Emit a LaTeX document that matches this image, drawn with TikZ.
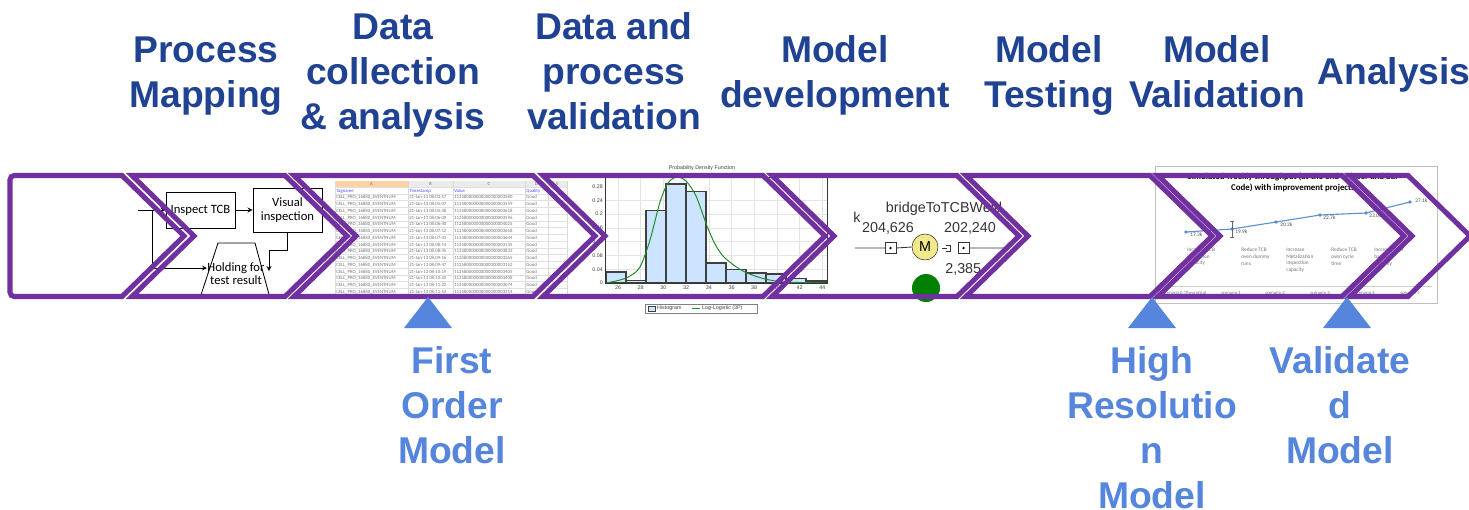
\documentclass[tikz,border=0pt]{standalone}
\usepackage{fontspec}
\setmainfont{Liberation Sans}
\newfontfamily\calfont{Carlito}
\usetikzlibrary{arrows.meta}
\definecolor{chevpurple}{RGB}{112,48,160}
\definecolor{stageblue}{RGB}{32,66,146}
\definecolor{markblue}{RGB}{86,133,221}
\definecolor{histfill}{RGB}{204,228,255}
\definecolor{pdfgreen}{RGB}{30,140,40}
\definecolor{lineblue}{RGB}{91,145,210}
\definecolor{gridgrey}{RGB}{228,228,228}
\definecolor{mustard}{RGB}{242,232,140}
\begin{document}
\begin{tikzpicture}[x=0.025cm,y=-0.025cm,>=stealth,
  stage/.style={font=\fontsize{26.5}{32}\selectfont\bfseries,text=stageblue,align=center,anchor=base,inner sep=0pt},
  milestone/.style={stage,text=markblue},
  chevline/.style={draw=chevpurple,line width=3.6pt,line join=miter},
  flowbox/.style={draw,line width=0.6pt,font=\calfont\fontsize{9}{9.5}\selectfont,align=center,inner sep=0pt},
  cell/.style={font=\calfont\fontsize{3.4}{4}\selectfont,text=black!55,anchor=base west,inner sep=0pt},
  axlabel/.style={font=\fontsize{3.8}{4}\selectfont,text=black!75,inner sep=0.6pt},
  modeltext/.style={font=\fontsize{10.2}{12}\selectfont,text=black!80,inner sep=0pt,anchor=base},
  charttext/.style={font=\calfont\fontsize{3.8}{4.7}\selectfont,text=black!55,align=left,anchor=north west,inner sep=0pt}]
\useasboundingbox (0,0) rectangle (1469,509);

% stage titles (placed at the baseline of their last line)
\node[stage] (procmap) at (206,107) {Process\\Mapping};
\node[stage] (datacoll) at (393,129) {Data\\collection\\\& analysis};
\node[stage] (dataval) at (614,129) {Data and\\process\\validation};
\node[stage] (modeldev) at (835,107) {Model\\development};
\node[stage] (modeltest) at (1049,107) {Model\\Testing};
\node[stage] (modelval) at (1217,107) {Model\\Validation};
\node[stage] (analysis) at (1394,84) {Analysis};

% process map snapshot
\node[flowbox,minimum width=1.725cm,minimum height=0.9cm] (inspect) at (200.5,210) {Inspect TCB};
\node[flowbox,minimum width=1.725cm,minimum height=1.1cm] (visual) at (287.5,210) {Visual\\inspection};
\draw[line width=0.6pt] (200,298)--(218,243)--(255,243)--(270,298);
\node[flowbox,draw=none] (hold) at (236,273.5) {Holding for\\test result};
\coordinate (flowin) at (138,210);
\draw[->,line width=0.6pt] (flowin) -- (inspect.west);
\draw[->,line width=0.6pt] (inspect.east) -- (visual.west);
\draw[->,line width=0.6pt] (visual.south) -- (287.5,250) -- (269,250) -- (269,271);
\draw[->,line width=0.6pt] (152,210) -- (152,268) -- (207,268);

% spreadsheet snapshot
\fill[black!8] (335,181) rectangle (567,187);
\fill[orange!35] (335,181) rectangle (408,187);
\foreach \x in {335,408,453,525,548,567} \draw[black!15,line width=0.2pt] (\x,181) -- (\x,298);
\foreach \r in {0,...,16} \draw[black!12,line width=0.2pt] (335,{187+6.75*\r}) -- (567,{187+6.75*\r});
\foreach \c/\x in {A/371.5,B/430.5,C/489,D/536.5,E/557.5} \node[cell,anchor=center] at (\x,184) {\c};
\node[cell,text=blue!70] at (336,192) {Tagname};
\node[cell,text=blue!70] at (409,192) {Timestamp};
\node[cell,text=blue!70] at (454,192) {Value};
\node[cell,text=blue!70] at (526,192) {Quality};
\foreach \ts/\val [count=\i] in {08:03:57/3580,08:05:07/3559,08:05:38/3618,08:06:09/3596,08:06:40/4025,08:07:12/3658,08:07:43/3644,08:08:14/3135,08:08:45/3832,08:09:16/3265,08:09:47/3152,08:10:19/3405,08:10:50/3408,08:11:22/3074,08:11:53/3314}{
  \node[cell] at (336,{192+6.75*\i}) {CELL\_PRO\_16880\_EVENTNUM};
  \node[cell] at (409,{192+6.75*\i}) {21-Jan-13 \ts};
  \node[cell] at (454,{192+6.75*\i}) {11258000000000000000\val};
  \node[cell] at (526,{192+6.75*\i}) {Good};
}

% histogram snapshot
\node[axlabel] (pdftitle) at (702,168) {Probability Density Function};
\foreach \v in {26,28,...,44} \draw[gridgrey,line width=0.3pt] ({618+11.35*(\v-26)},177) -- ({618+11.35*(\v-26)},283);
\foreach \v in {0.04,0.08,...,0.28} \draw[gridgrey,line width=0.3pt] (605,{283-345*\v}) -- (827,{283-345*\v});
\foreach \x/\h in {606/0.032,626/0.008,646/0.21,666/0.287,686/0.264,706/0.058,726/0.04,746/0.029,766/0.026,786/0.012,806/0.006}
  \draw[fill=histfill,draw=black!75,line width=0.8pt] (\x,283) rectangle ({\x+20},{283-345*\h});
\draw[pdfgreen,line width=0.7pt] plot[smooth] coordinates {(606,283) (620,280) (630,276) (640,267) (650,240) (660,202) (668,183) (677,177) (686,181) (696,196) (707,226) (715,244) (723,256) (735,266) (747,273) (765,279) (785,282) (826,283)};
\draw[black!80,line width=0.5pt] (605,177) rectangle (827,283);
\foreach \v/\t in {0/0,0.04/0.04,0.08/0.08,0.12/0.12,0.16/0.16,0.2/0.2,0.24/0.24,0.28/0.28} \node[axlabel,anchor=east] at (604,{283-345*\v}) {\t};
\foreach \v in {26,28,...,44} \node[axlabel,anchor=north] at ({618+11.35*(\v-26)},285) {\v};
\draw[black!50,line width=0.3pt] (645,304) rectangle (757,313);
\draw[fill=histfill,draw=black!75,line width=0.3pt] (648,306) rectangle (655,311);
\node[axlabel,anchor=west] (histlegend) at (656,308.5) {Histogram};
\draw[pdfgreen,line width=0.5pt] (692,308.5) -- (700,308.5);
\node[axlabel,anchor=west] (pdflegend) at (701,308.5) {Log-Logistic (3P)};

% model element snapshot
\node[modeltext] (blockname) at (944,212) {bridgeToTCBWeld};
\node[modeltext,anchor=base west] (blockk) at (853,222) {k};
\node[modeltext] (flowleft) at (888,232) {204,626};
\node[modeltext] (flowright) at (970,232) {202,240};
\node[modeltext,anchor=base west] (flowscrap) at (945,273) {2,385};
\node[draw=black!80,fill=mustard,circle,minimum size=0.65cm,inner sep=0pt,font=\fontsize{10.2}{12}\selectfont] (machine) at (925,247) {M};
\node[draw=black!80,minimum size=0.27cm,inner sep=0pt] (qleft) at (890.5,248) {};
\node[draw=black!80,minimum size=0.27cm,inner sep=0pt] (qright) at (963.5,248) {};
\fill[black] (qleft) circle (0.9pt) (qright) circle (0.9pt);
\coordinate (lineleft) at (855,248);
\coordinate (lineright) at (1010,248);
\draw[black!80,line width=0.6pt] (lineleft) -- (qleft.west) (qleft.east) -- (machine.west) (qright.east) -- (lineright);
\draw[black!80,line width=0.6pt] (942,248) -- (947,248) (946,245) -- (950,245) -- (950,251) -- (946,251);
\fill[green!50!black] (926,288) circle (0.35cm);

% throughput chart snapshot
\draw[black!25,line width=0.4pt] (1155,166) rectangle (1437,303);
\node[font=\calfont\bfseries\fontsize{6.3}{7.5}\selectfont,align=center,anchor=base,inner sep=0pt] (charttitle) at (1293,190) {Simulated weekly throughput (at the end of laser and bar\\Code) with improvement projects};
\draw[lineblue,line width=0.8pt] plot coordinates {(1186,232) (1232,229) (1276,222) (1320,215) (1366,213) (1410,202)};
\foreach \p in {(1186,232),(1232,229),(1276,222),(1320,215),(1366,213),(1410,202)} \fill[lineblue] \p circle (1.3pt);
\draw[black!60,line width=0.3pt] (1232,221) -- (1232,237) (1230,221) -- (1234,221) (1230,237) -- (1234,237);
\foreach \x/\y/\t in {1190/233/17.3k,1235/230/19.9k,1280/223/20.2k,1323/216/22.7k,1369/214/23.0k,1415/199/27.1k}
  \node[charttext,text=black!70] at (\x,\y) {\t};
\node[charttext] (proj1) at (1187,248) {Increase TCB\\inspection\\capacity};
\node[charttext] (proj2) at (1241,248) {Reduce TCB\\oven dummy\\runs};
\node[charttext] (proj3) at (1286,248) {Increase\\Metalization\\inspection\\capacity};
\node[charttext] (proj4) at (1331,248) {Reduce TCB\\oven cycle\\time};
\node[charttext] (proj5) at (1374,248) {Increase laser\\bar code\\capacity};
\draw[black!20,line width=0.4pt] (1160,286) -- (1432,286);
\node[charttext,anchor=base west,font=\calfont\fontsize{3.3}{4}\selectfont] (scen0) at (1163,294) {scenario 0 (Theoretical};
\foreach \x/\t in {1231/1,1275/2,1320/3,1365/4,1410/5}
  \node[charttext,anchor=base,font=\calfont\fontsize{3.3}{4}\selectfont] at (\x,294) {scenario \t};

% chevrons
\draw[chevline,rounded corners=3pt] (60,175.5) -- (10,175.5) -- (10,296.5) -- (60,296.5) [sharp corners] -- (122,296.5) -- (184,236) -- (122,175.5) -- cycle;
\foreach \xl/\xr in {132/285,294/533,543/763,772/957,966/1150,1158/1342,1350/1408}
  \draw[chevline] (\xl,175.5) -- (\xr,175.5) -- ({\xr+62},236) -- (\xr,296.5) -- (\xl,296.5) -- ({\xl+62},236) -- cycle;

% milestones
\fill[markblue] (404,328) -- (428,297) -- (452,328) -- cycle;
\fill[markblue] (1128,328) -- (1152,297) -- (1176,328) -- cycle;
\fill[markblue] (1323,328) -- (1347,297) -- (1371,328) -- cycle;
\node[milestone] (firstorder) at (452,463) {First\\Order\\Model};
\node[milestone] (highres) at (1152,508) {High\\Resolutio\\n\\Model};
\node[milestone] (validated) at (1340,463) {Validate\\d\\Model};
\end{tikzpicture}
\end{document}
